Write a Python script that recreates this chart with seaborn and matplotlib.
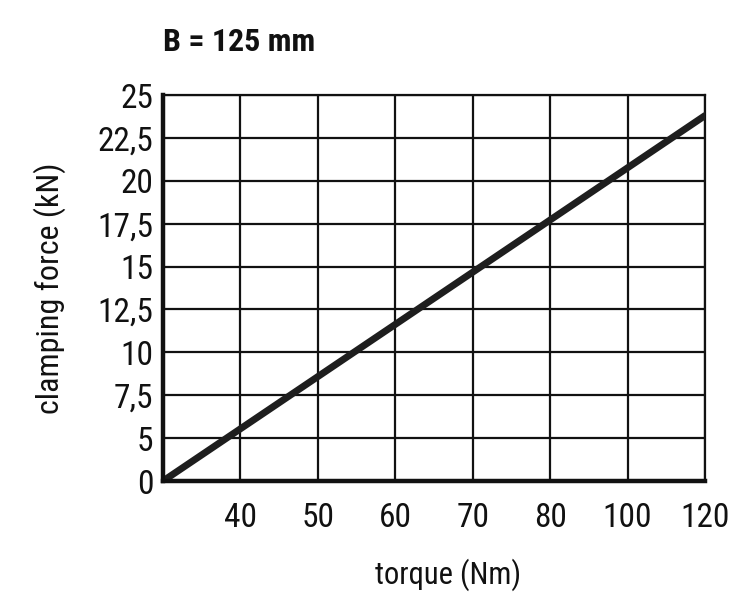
import numpy as np
import seaborn as sns
import matplotlib
matplotlib.use("Agg")
import matplotlib.pyplot as plt

# axis breakpoints (the chart uses evenly spaced, non-linear grids)
x_edges = [30, 40, 50, 60, 70, 80, 100, 120]
x_ticks = [40, 50, 60, 70, 80, 100, 120]
y_edges = [0, 5, 7.5, 10, 12.5, 15, 17.5, 20, 22.5, 25]
y_labels = ["0", "5", "7,5", "10", "12,5", "15", "17,5", "20", "22,5", "25"]

# curve
torque = [30, 120]
force = [0, 23.8]

sns.set_style("white")
plt.rcParams['font.family'] = ['Roboto Condensed', 'DejaVu Sans']

xpos = np.arange(len(x_edges), dtype=float)
ypos = np.arange(len(y_edges), dtype=float)


def fx(v):
    return np.interp(v, x_edges, xpos)


def fx_inv(p):
    return np.interp(p, xpos, x_edges)


def fy(v):
    return np.interp(v, y_edges, ypos)


def fy_inv(p):
    return np.interp(p, ypos, y_edges)


fig = plt.figure(figsize=(7.5, 6.15), dpi=100)
ax = fig.add_axes([163 / 750, 134 / 615, 542 / 750, 386 / 615])
ax.set_xscale('function', functions=(fx, fx_inv))
ax.set_yscale('function', functions=(fy, fy_inv))

sns.lineplot(x=torque, y=force, ax=ax, color='#1e1e1e', linewidth=5,
             solid_capstyle='round', zorder=5)

ax.set_xlim(30, 120)
ax.set_ylim(0, 25)
ax.set_xticks(x_ticks)
ax.set_xticklabels([str(t) for t in x_ticks])
ax.set_xticks(x_edges, minor=True)
ax.set_yticks(y_edges)
ax.set_yticklabels(y_labels)
ax.xaxis.set_minor_formatter(plt.NullFormatter())

ax.grid(True, which='both', color='#111111', linewidth=1.6)
ax.set_axisbelow(True)
ax.tick_params(axis='both', which='both', length=0, labelsize=24, colors='#111111')
ax.tick_params(axis='x', pad=15)
ax.tick_params(axis='y', pad=7)

for side in ['top', 'right']:
    ax.spines[side].set_linewidth(1.6)
    ax.spines[side].set_color('#111111')
for side in ['left', 'bottom']:
    ax.spines[side].set_linewidth(3.2)
    ax.spines[side].set_color('#111111')
    ax.spines[side].set_zorder(6)

ax.set_xlabel('torque (Nm)', fontsize=22, color='#111111')
ax.set_ylabel('clamping force (kN)', fontsize=23, color='#111111')
ax.xaxis.set_label_coords(0.526, -0.244)
ax.yaxis.set_label_coords(-0.209, 0.5)
ax.xaxis.label.set_va('center')
ax.yaxis.label.set_va('center')
fig.text(163 / 750, 1 - 42 / 615, 'B = 125 mm', fontsize=23, fontweight='bold',
         ha='left', va='center', color='#111111')

fig.savefig('out.png', dpi=100)
